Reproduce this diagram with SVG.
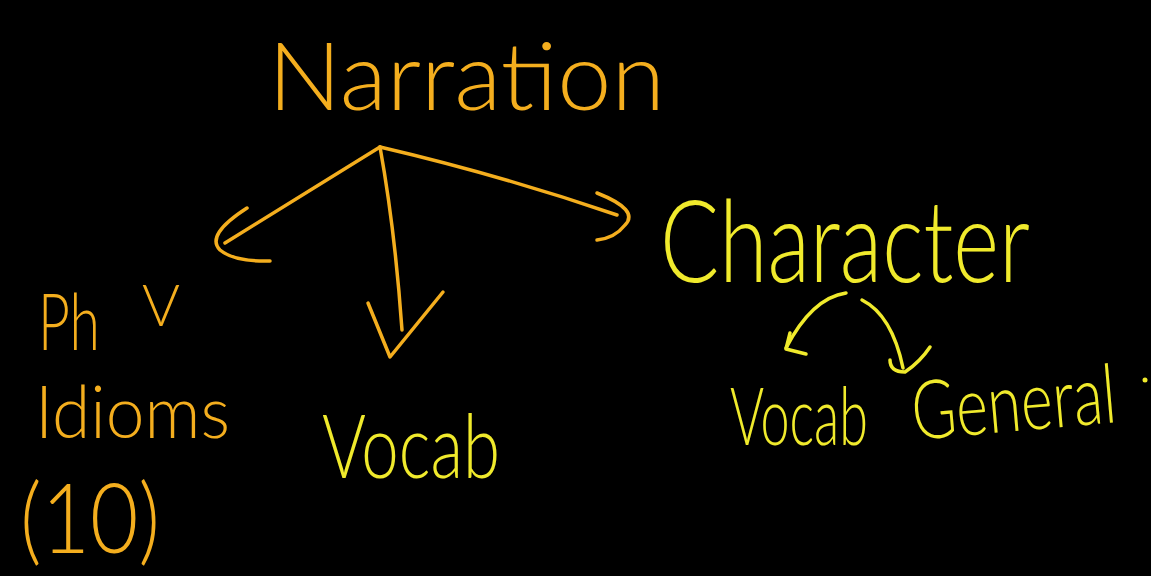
<svg xmlns="http://www.w3.org/2000/svg" width="1151" height="576" viewBox="0 0 1151 576">
<style>
.bg{fill:#000}
.or{fill:#f4ae1e}
.ye{fill:#f0ea2c}
.t{font-family:Lato,"Liberation Sans",sans-serif;font-weight:300}
.lo{fill:none;stroke:#f4ae1e;stroke-width:3.5;stroke-linecap:round;stroke-linejoin:round}
.ly{fill:none;stroke:#f0ea2c;stroke-width:3.5;stroke-linecap:round;stroke-linejoin:round}
</style>
<rect class="bg" x="0" y="0" width="1151" height="576"/>
<g id="narration"><text class="t or" x="268" y="110" font-size="95" textLength="397" lengthAdjust="spacingAndGlyphs">Narration</text></g>
<g id="phv-idioms">
<text class="t or" x="38" y="350" font-size="78" textLength="62" lengthAdjust="spacingAndGlyphs">Ph</text>
<text class="t or" x="142" y="326" font-size="58" textLength="38" lengthAdjust="spacingAndGlyphs">V</text>
<text class="t or" x="35" y="438" font-size="72" textLength="195" lengthAdjust="spacingAndGlyphs">Idioms</text>
<text class="t or" x="20" y="553" font-size="96" textLength="140" lengthAdjust="spacingAndGlyphs">(10)</text>
</g>
<g id="vocab"><text class="t ye" x="322" y="478" font-size="88" textLength="178" lengthAdjust="spacingAndGlyphs">Vocab</text></g>
<g id="character"><text class="t ye" x="660" y="282" font-size="115" textLength="370" lengthAdjust="spacingAndGlyphs">Character</text></g>
<g id="vocab2"><text class="t ye" x="730" y="445" font-size="80" textLength="138" lengthAdjust="spacingAndGlyphs">Vocab</text></g>
<g id="general"><text class="t ye" x="914" y="440" font-size="82" textLength="205" lengthAdjust="spacingAndGlyphs" transform="rotate(-5 914 440)">General</text>
<circle class="ye" cx="1145" cy="380" r="2.5"/></g>
<g id="connectors">
<path class="lo" d="M380 147 L225 243"/>
<path class="lo" d="M247 208 Q205 235 220 250 Q235 262 270 261"/>
<path class="lo" d="M380 147 Q395 230 402 330"/>
<path class="lo" d="M368 303 L390 357 L443 292"/>
<path class="lo" d="M380 147 Q500 175 617 215"/>
<path class="lo" d="M597 193 Q640 210 625 225 Q615 238 597 240"/>
<path class="ly" d="M846 293 Q812 298 786 348"/>
<path class="ly" d="M790 333 L786 349 L806 354"/>
<path class="ly" d="M862 300 Q892 315 903 368"/>
<path class="ly" d="M930 347 Q920 362 905 372 Q890 372 890 360"/>
</g>
</svg>
